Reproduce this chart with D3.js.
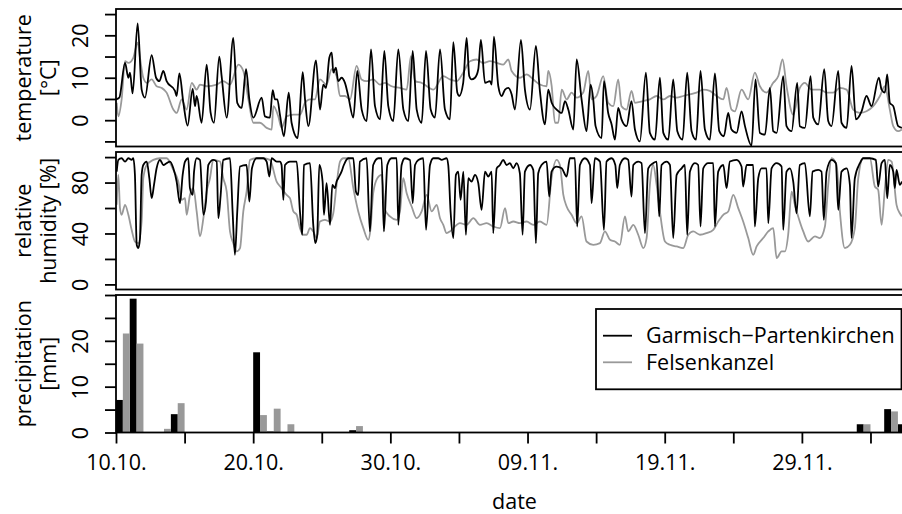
<!DOCTYPE html>
<html lang="en">

<head>
  <meta charset="utf-8">
  <title>Garmisch vs Felsenkanzel</title>
  <script src="https://cdn.jsdelivr.net/npm/d3@7"></script>
  <style>
    body {
      margin: 0;
      background: #fff;
    }

    svg {
      display: block;
      font-family: "Open Sans", sans-serif;
    }
  </style>
</head>

<body>
  <svg id="svg" width="902" height="514"></svg>
  <script type="text/javascript">

    var startDate = Date.UTC(2010, 9, 10); // 10.10.
    var stations = ['Garmisch\u2212Partenkirchen', 'Felsenkanzel'];
    var colors = ['#000000', '#999999'];

    // [days since 10.10. 00:00, °C]
    var tempGarmisch = [[0, 4.9], [0.24, 5.3], [0.66, 13.5], [0.9, 10], [1.02, 11.2], [1.21, 6.3], [1.58, 22.8], [1.87, 7.2], [2.11, 5.3], [2.6, 15.3], [2.92, 10], [3.16, 9.2], [3.45, 11.6], [3.69, 9.2], [4.3, 6.9], [4.42, 5.7], [4.62, 11], [4.91, 4.1], [5.22, -1.3], [5.59, 7.4], [5.76, 3.3], [5.88, 5.7], [6.24, -0.6], [6.61, 13.1], [6.9, 1.7], [7.14, -0.6], [7.53, 15], [7.7, 10.4], [8.07, 0.6], [8.55, 19.4], [8.84, 4.1], [9.16, 2.9], [9.48, 12], [9.72, 4.9], [10.01, 0.6], [10.62, 5.3], [10.86, 0.9], [11.22, 0.6], [11.42, 7.1], [11.59, 4.9], [11.76, 4.9], [11.95, 1.3], [12.24, -3.8], [12.59, 6.5], [12.8, -0.6], [13.24, -4.2], [13.61, 11.3], [13.78, 4.9], [14.02, -1.4], [14.58, 14.1], [14.87, 2.5],
      [15.11, 8.4], [15.31, 7.6], [15.55, 14.7], [15.73, 15.9], [15.84, 11.2], [16.03, 12.4], [16.2, 9.2], [16.44, 10], [16.69, 8.8], [16.93, 5.7], [17.3, 0.6], [17.59, 11.6], [17.91, 2.5], [18.27, -0.2], [18.59, 16.7], [18.88, 3.3], [19.25, 0.2], [19.56, 16.3], [19.85, 3.3], [20.21, -0.2], [20.58, 16.7], [20.95, 2.5], [21.31, -0.2], [21.63, 16.3], [21.92, 2.5], [22.28, -0.6], [22.6, 16.3], [22.94, 2.5], [23.25, 0.6], [23.62, 16.7], [23.98, 2.5], [24.34, 0.2], [24.59, 18.4], [24.88, 6.5], [25.02, 5.7], [25.31, 8.8], [25.56, 19.4], [25.75, 10.4], [25.92, 9.6], [26.17, 10], [26.41, 12], [26.6, 18.9], [26.9, 8.8], [27.26, 9.2], [27.39, 8.4], [27.55, 19.7], [27.87, 8], [28.11, 5.7], [28.36, 7.2], [28.6, 7.6], [28.84, 6.1], [29.08, 2.5], [29.52, 18.9], [29.81, 7.2], [30.18, 2.5], [30.61, 17.5], [30.9, 6.9], [31.27, -1], [31.51, 7.2], [31.76, 4.1], [32.12, 2.5], [32.49, 1.7], [32.73, 4.5], [32.97, 2.5], [33.34, -2.2], [33.58, 14.3], [33.94, 4.9], [34.3, -2.6], [34.6, 8.4], [34.79, 4.9], [34.96, -1.4], [35.4, -4.2], [35.57, 9.2], [35.88, 1.7], [36.13, -1], [36.37, -4.6], [36.61, 2.9],
      [36.85, 0.2], [37.22, -1.4], [37.58, 4.5], [37.83, -2.2], [38.19, -5], [38.63, 11.2], [38.92, -3], [39.29, -4.6], [39.65, 10], [39.9, -3], [40.26, -4.6], [40.62, 9.6], [40.92, -2.6], [41.3, -4.6], [41.64, 11.2], [41.96, -2.6], [42.28, -4.6], [42.61, 11.6], [42.93, -2.2], [43.29, -4.6], [43.66, 11], [43.98, -2.6], [44.31, -3.8], [44.63, 1.7], [44.87, -2.2], [45.24, -3], [45.6, 2.1], [45.85, -1.4], [46.33, -6], [46.62, 9.6], [46.94, -3], [47.31, -3.4], [47.67, 7.6], [47.91, -2.6], [48.16, -3], [48.64, 10.4], [48.88, -1.4], [49.25, -2.6], [49.66, 8.8], [49.85, -1.4], [50.22, -1.8], [50.63, 10.4], [50.83, 0.6], [51.19, -1], [51.63, 12], [51.92, -0.2], [52.16, -1.4], [52.65, 11.6], [52.89, -0.6], [53.26, -1.8], [53.62, 12.8], [53.94, 0.2], [54.35, 2.1], [54.71, 5.7], [55.08, 3.3], [55.61, 10], [55.81, 7.2], [56.05, 6.5], [56.22, 10.8], [56.41, 4.1], [56.66, 3.3], [57.02, -1.4], [57.29, -1.8]];

    var tempFelsenkanzel = [[0.05, 4.1], [0.17, 0.9], [0.41, 4.9], [0.66, 13.9], [0.9, 13.5], [1.26, 14.7], [1.58, 18.3], [1.75, 14.7], [1.99, 10], [2.24, 8.8], [2.6, 9.6], [2.96, 8], [3.33, 7.6], [3.69, 6.5], [4.18, 2.5], [4.42, 1.7], [4.79, 4.9], [5.15, 2.5], [5.52, 8.8], [5.88, 7.2], [6.12, 8.4], [6.61, 8], [7.34, 8.4], [7.82, 9.2], [8.31, 8.4], [8.92, 13.1], [9.28, 11.6], [9.65, 4.9], [10.01, -0.6], [10.49, -0.6], [10.98, -1.8], [11.35, -2.2], [11.47, 3.3], [11.83, 0.9], [12.07, -1.8], [12.44, 0.9], [12.93, 1.3], [13.41, 1.3], [13.78, 4.1], [14.14, 4.9], [14.5, 4.9], [14.87, 9.6],
      [15.35, 8.4], [15.72, 12], [16.08, 10.4], [16.33, 5.7], [16.69, 5.7], [17.06, 4.9], [17.54, 12.8], [17.9, 9.6], [18.27, 9.2], [18.75, 9.6], [19.24, 8.4], [19.61, 8.8], [20.09, 8], [20.7, 7.6], [21.19, 7.2], [21.5, 15.1], [21.8, 9.2], [22.28, 8.8], [23.13, 7.2], [23.86, 10.4], [24.34, 9.6], [24.83, 9.2], [25.31, 11.2], [25.8, 13.9], [26.29, 14.3], [26.77, 13.5], [27.26, 13.9], [27.75, 13.5], [28.23, 13.1], [28.6, 14.3], [28.84, 11.6], [29.45, 10], [29.93, 10.8], [30.42, 9.6], [30.9, 8.4], [31.39, 8], [31.51, 11.6], [31.76, 8], [32, -0.6], [32.24, -0.6], [32.49, 7.2], [32.85, 4.9], [33.21, 6.5], [33.58, 5.3], [34.06, 6.5], [34.43, 11.6], [34.67, 4.9], [35.03, 5.7], [35.52, 10.4], [35.88, 4.1], [36.25, 3.3], [36.61, 9.6],
      [36.85, 3.3], [37.22, 2.5], [37.58, 6.9], [37.83, 4.1], [38.44, 4.5], [38.92, 4.9], [39.41, 5.7], [39.9, 4.9], [40.38, 5.7], [40.87, 5.3], [41.35, 5.7], [41.84, 6.1], [42.32, 6.5], [42.81, 7.2], [43.29, 6.9], [43.78, 5.7], [44.27, 4.9], [44.51, 7.6], [44.87, 2.5], [45.11, 2.1], [45.6, 7.2], [46.09, 4.9], [46.57, 11.2], [46.94, 8], [47.42, 6.5], [47.91, 8.8], [48.28, 10.4], [48.59, 14.3], [48.88, 8], [49.37, 1.3], [49.85, 7.6], [50.22, 8.8], [50.7, 7.2], [51.31, 7.2], [51.8, 6.5], [52.28, 6.5], [52.77, 7.6], [53.26, 7.2], [53.74, 2.5], [54.23, 1.7], [54.71, 2.1], [55.2, 3.3], [55.69, 5.7], [56.05, 8], [56.41, 2.5], [56.66, -1.4], [57.02, -2.6], [57.29, -2.2]];

    // [days since 10.10. 00:00, %]
    var humGarmisch = [[0.05, 88.6], [0.17, 97.8], [0.41, 99.1], [0.66, 96.5], [0.9, 99.1], [1.14, 97.8], [1.26, 99.1], [1.38, 86], [1.51, 31.1], [1.63, 28.5], [1.75, 36.4], [1.87, 86], [1.99, 93.8], [2.24, 96.5], [2.43, 83.4], [2.6, 67.7], [2.77, 78.2], [2.96, 91.2], [3.21, 97.8], [3.45, 93.8], [3.69, 95.2], [3.94, 96.5], [4.18, 91.2], [4.42, 80.8], [4.66, 63.8], [4.86, 86], [5.03, 96.5], [5.27, 99.1], [5.39, 75.6], [5.59, 70.3], [5.69, 88.6], [5.88, 99.1], [6.12, 97.8], [6.37, 54.7], [6.56, 65.1], [6.73, 93.8], [7.09, 97.8], [7.34, 96.5], [7.46, 52], [7.63, 70.3], [7.82, 97.8], [8.31, 99.1], [8.5, 57.3], [8.67, 23.3], [8.84, 57.3], [9.04, 92.6], [9.52, 93.8], [9.72, 65.1], [9.91, 91.2], [10.25, 99.1], [10.74, 99.1], [10.98, 96.5], [11.18, 84.7], [11.35, 99.1], [11.71, 96.5], [11.95, 96.5], [12.07, 93.8], [12.2, 66.4], [12.32, 93.8], [12.68, 96.5], [13.17, 96.5], [13.41, 57.3], [13.58, 38.9], [13.7, 93.8], [14.14, 95.2], [14.38, 46.8], [14.53, 32.4], [14.67, 39], [14.82, 93.8],
      [15.06, 80.8], [15.16, 54.7], [15.35, 79.5], [15.6, 46.8], [15.77, 78.2], [15.96, 75.6], [16.08, 80.8], [16.2, 83.4], [16.44, 88.6], [16.61, 93.8], [16.93, 99.1], [17.3, 99.1], [17.49, 72.9], [17.66, 70.3], [17.78, 96.5], [18.27, 99.1], [18.51, 41.6], [18.75, 93.8], [19.12, 99.1], [19.36, 99.1], [19.53, 41.6], [19.78, 93.8], [20.09, 99.1], [20.46, 99.1], [20.58, 46.8], [20.82, 93.8], [21.06, 99.1], [21.43, 97.8], [21.63, 63.8], [21.8, 93.8], [22.04, 97.8], [22.4, 99.1], [22.6, 42.9], [22.89, 93.8], [23.13, 99.1], [23.49, 99.1], [23.74, 97.8], [24.1, 99.1], [24.22, 93.8], [24.39, 57.3], [24.59, 36.4], [24.78, 86], [24.95, 88.6], [25.12, 66.4], [25.32, 88.6], [25.51, 39], [25.68, 83.4], [25.92, 80.8], [26.17, 86], [26.41, 79.5], [26.65, 58.6], [26.9, 88.6], [27.14, 84.7], [27.38, 88.6], [27.5, 40.3], [27.75, 91.2], [27.99, 93.8], [28.23, 97.8], [28.47, 93.8], [28.72, 95.2], [28.96, 91.2], [29.2, 95.2], [29.44, 87.3], [29.64, 39], [29.81, 88.6], [30.18, 93.8], [30.42, 89.9], [30.61, 32.4], [30.78, 87.3], [31.02, 93.8], [31.39, 96.5], [31.58, 69], [31.75, 88.6], [32.12, 92.5], [32.49, 91.2], [32.85, 84.7], [33.09, 99.1], [33.45, 99.1], [33.62, 45.5], [33.82, 93.8], [34.18, 99.1], [34.55, 93.8], [34.67, 63.8], [34.91, 99.1], [35.28, 96.5], [35.57, 42.9], [35.76, 96.5], [36.13, 99.1], [36.4, 93.8], [36.54, 75.6], [36.73, 93.8],
      [37.1, 99.1], [37.34, 97.8], [37.58, 69], [37.71, 93.8], [38.07, 96.5], [38.31, 95.2], [38.56, 40.3], [38.8, 91.2], [39.16, 95.2], [39.41, 96.5], [39.6, 53.4], [39.77, 93.8], [40.14, 96.5], [40.38, 93.8], [40.62, 36.4], [40.87, 86], [41.23, 91.2], [41.47, 93.8], [41.64, 39], [41.84, 88.6], [42.2, 95.2], [42.44, 93.8], [42.61, 45.5], [42.81, 91.2], [43.17, 95.2], [43.54, 95.2], [43.66, 45.5], [43.9, 88.6], [44.27, 93.8], [44.51, 75.6], [44.75, 96.5], [45.24, 97.8], [45.6, 92.6], [45.72, 76.9], [45.97, 93.8], [46.45, 93.8], [46.57, 45.5], [46.82, 83.4], [47.06, 91.2], [47.42, 91.2], [47.55, 48.1], [47.79, 91.2], [48.16, 95.2], [48.52, 92.6], [48.64, 42.9], [48.88, 88.6], [49.13, 91.2], [49.37, 80.8], [49.61, 55.9], [49.85, 93.8], [50.22, 95.2], [50.58, 53.4], [50.78, 88.6], [51.19, 89.9], [51.43, 88.6], [51.6, 50.7], [51.8, 88.6], [52.16, 97.8], [52.48, 95.2], [52.65, 58.6], [52.89, 88.6], [53.26, 91.2], [53.5, 78.2], [53.62, 36.4], [53.86, 83.4], [54.23, 95.2], [54.47, 99.1], [54.96, 99.1], [55.39, 97.8], [55.56, 76.9], [55.81, 95.2], [56.05, 97.8], [56.22, 67.7], [56.41, 93.8], [56.66, 88.6], [56.78, 75.6], [56.9, 89.9], [57.14, 78.2], [57.29, 80.8]];

    var humFelsenkanzel = [[0.05, 62.5], [0.17, 86], [0.29, 59.9], [0.41, 54.7], [0.66, 62.5], [0.9, 54.7], [1.14, 42.9], [1.38, 33.7], [1.63, 32.4], [1.87, 49.4], [1.99, 83.4], [2.24, 93.8], [2.72, 97.8], [3.21, 99.1], [3.69, 99.1], [4.18, 89.9], [4.54, 80.8], [4.79, 66.4], [5.03, 67.7], [5.15, 54.7], [5.39, 70.3], [5.64, 75.6], [5.88, 57.3], [6.12, 37.7], [6.37, 52], [6.61, 72.9], [6.85, 83.4], [7.09, 97.8], [7.58, 96.5], [7.82, 83.4], [8.07, 72.9], [8.31, 41.6], [8.55, 32.4], [8.8, 25.9], [9.04, 28.5], [9.28, 57.3], [9.52, 72.9], [9.77, 97.8], [10.25, 99.1], [10.74, 99.1], [11.22, 97.8], [11.71, 80.8], [12.07, 75.6], [12.44, 70.3], [12.68, 67.7], [12.93, 57.3], [13.17, 54.7], [13.41, 44.2], [13.65, 39], [13.9, 39], [14.14, 44.2], [14.38, 41.6], [14.63, 36.4], [14.87, 49.4],
      [15.23, 50.7], [15.6, 49.4], [15.84, 55.9], [16.08, 78.2], [16.33, 96.5], [16.57, 99.1], [16.93, 99.1], [17.3, 75.6], [17.66, 57.3], [18.03, 44.2], [18.39, 35], [18.56, 44.2], [18.75, 71.6], [19.05, 83.4], [19.36, 86], [19.61, 58.6], [19.97, 53.4], [20.46, 50.7], [20.7, 57.3], [20.94, 83.4], [21.19, 71.6], [21.55, 61.2], [21.92, 52], [22.28, 57.3], [22.65, 70.3], [23.01, 57.3], [23.38, 62.5], [23.62, 52], [23.86, 46.8], [24.1, 40.3], [24.34, 41.6], [24.59, 44.2], [25.07, 48.1], [25.56, 46.8], [26.05, 52], [26.53, 46.8], [27.02, 48.1], [27.5, 45.5], [27.99, 44.2], [28.36, 59.9], [28.6, 48.1], [28.96, 49.4], [29.45, 48.1], [29.93, 49.4], [30.42, 46.8], [30.9, 49.4], [31.39, 46.8], [31.75, 83.4], [32.12, 97.8], [32.36, 93.8], [32.61, 70.3], [32.85, 61.2], [33.21, 54.7], [33.58, 48.1], [33.94, 53.4], [34.3, 33.7], [34.79, 31.1], [35.28, 32.4], [35.64, 41.6], [36.01, 35], [36.37, 33.7], [36.73, 31.1],
      [37.1, 53.4], [37.34, 41.6], [37.71, 46.8], [38.07, 39], [38.44, 28.5], [38.68, 36.4], [38.92, 78.2], [39.16, 93.8], [39.41, 78.2], [39.65, 57.3], [40.02, 33.7], [40.38, 31.1], [40.87, 29.8], [41.35, 28.5], [41.72, 39], [42.08, 41.6], [42.57, 39], [43.05, 40.3], [43.54, 42.9], [43.9, 49.4], [44.27, 54.7], [44.63, 57.3], [45, 70.3], [45.36, 59.9], [45.72, 49.4], [46.09, 36.4], [46.45, 23.3], [46.7, 29.8], [47.18, 36.4], [47.55, 41.6], [47.91, 44.2], [48.16, 20.7], [48.52, 25.9], [48.76, 25.9], [49, 39], [49.25, 72.9], [49.49, 62.5], [49.73, 53.4], [50.1, 41.6], [50.46, 33.7], [50.95, 37.7], [51.31, 36.4], [51.68, 45.5], [51.92, 78.2], [52.16, 99.1], [52.53, 93.8], [52.77, 57.3], [53.13, 28.5], [53.5, 31.1], [53.86, 44.2], [54.11, 83.4], [54.47, 99.1], [54.96, 99.1], [55.32, 76.9], [55.56, 74.3], [55.81, 46.8], [56.05, 75.6], [56.29, 97.8], [56.54, 96.5], [56.9, 62.5], [57.14, 55.9], [57.29, 53.4]];

    // daily precipitation [mm], one value per day from 10.10.
    var precipGarmisch = [7.1, 29.2, 0, 0, 4.0, 0, 0, 0, 0, 0,
      17.5, 0.2, 0, 0, 0, 0, 0, 0.5, 0, 0,
      0, 0, 0, 0, 0, 0, 0, 0, 0, 0,
      0, 0, 0, 0, 0, 0, 0, 0, 0, 0,
      0, 0, 0, 0, 0, 0, 0, 0, 0, 0,
      0, 0, 0, 0, 1.8, 0, 5.1, 1.8];
    var precipFelsenkanzel = [21.6, 19.4, 0, 0.8, 6.4, 0, 0, 0, 0, 0,
      3.8, 5.2, 1.8, 0, 0, 0, 0, 1.4, 0, 0,
      0, 0, 0, 0, 0, 0, 0, 0, 0, 0,
      0, 0, 0, 0, 0, 0, 0, 0, 0, 0,
      0, 0, 0, 0, 0, 0, 0, 0, 0, 0,
      0, 0, 0, 0, 1.8, 0, 4.6, 0];

    var yTitles = [['temperature', '[°C]'], ['relative', 'humidity [%]'], ['precipitation', '[mm]']];
    var tempTicks = [-5, 0, 5, 10, 15, 20, 25], tempLabels = [0, 10, 20];
    var humTicks = [0, 20, 40, 60, 80, 100], humLabels = [0, 40, 80];
    var precTicks = [0, 5, 10, 15, 20, 25, 30], precLabels = [0, 10, 20];
    var dateTickDays = [0, 5, 10, 15, 20, 25, 30, 35, 40, 45, 50, 55];

    var fontSize = 21.5;
    var plotLeft = 116, plotRight = 913, panelH = 137.5;
    var tops = [9, 152, 295];

    var svg = d3.select('#svg');

    function toDate(d) {
      return new Date(startDate + d * 864e5);
    }

    var x = d3.scaleUtc()
      .domain([toDate(0), toDate(58.1)])
      .range([plotLeft, plotRight]);

    var yTemp = d3.scaleLinear().domain([-6.2, 26.2]).range([tops[0] + panelH, tops[0]]);
    var yHum = d3.scaleLinear().domain([-4, 104]).range([tops[1] + panelH, tops[1]]);
    var yPrec = d3.scaleLinear().domain([0, 30]).range([tops[2] + panelH, tops[2]]);

    var defs = svg.append('defs');
    tops.forEach(function (t, i) {
      defs.append('clipPath').attr('id', 'clip' + i)
        .append('rect')
        .attr('x', plotLeft).attr('y', t)
        .attr('width', plotRight - plotLeft).attr('height', panelH);
    });

    function drawLines(i, y, series) {
      var line = d3.line()
        .curve(d3.curveMonotoneX)
        .x(function (d) { return x(toDate(d[0])); })
        .y(function (d) { return y(d[1]); });
      var g = svg.append('g').attr('clip-path', 'url(#clip' + i + ')');
      // grey station below, black on top
      for (var k = series.length - 1; k >= 0; k--) {
        g.append('path')
          .datum(series[k])
          .attr('d', line)
          .attr('fill', 'none')
          .attr('stroke', colors[k])
          .attr('stroke-width', 1.8)
          .attr('stroke-linejoin', 'round');
      }
    }

    drawLines(0, yTemp, [tempGarmisch, tempFelsenkanzel]);
    drawLines(1, yHum, [humGarmisch, humFelsenkanzel]);

    // bars: black in the first half of the day, grey in the second
    var gBars = svg.append('g').attr('clip-path', 'url(#clip2)');
    [precipGarmisch, precipFelsenkanzel].forEach(function (vals, k) {
      var days = vals.map(function (v, i) { return { day: i, value: v }; })
        .filter(function (d) { return d.value > 0; });
      gBars.selectAll(null)
        .data(days)
        .enter()
        .append('rect')
        .attr('x', function (d) { return x(toDate(d.day + k * 0.5)); })
        .attr('width', function (d) { return x(toDate(d.day + 0.5)) - x(toDate(d.day)); })
        .attr('y', function (d) { return yPrec(d.value); })
        .attr('height', function (d) { return yPrec(0) - yPrec(d.value); })
        .attr('fill', colors[k]);
    });

    // panel boxes
    tops.forEach(function (t) {
      svg.append('rect')
        .attr('x', plotLeft).attr('y', t)
        .attr('width', plotRight - plotLeft).attr('height', panelH)
        .attr('fill', 'none')
        .attr('stroke', '#000')
        .attr('stroke-width', 1.8);
    });

    function yAxis(y, ticks, labels) {
      var g = svg.append('g')
        .attr('transform', 'translate(' + plotLeft + ',0)')
        .call(d3.axisLeft(y)
          .tickValues(ticks)
          .tickSize(11)
          .tickFormat(function (d) { return labels.indexOf(d) >= 0 ? d : ''; }));
      g.attr('font-size', null).attr('font-family', null);
      g.select('.domain').remove();
      g.selectAll('.tick line').attr('stroke', '#000').attr('stroke-width', 1.8);
      g.selectAll('.tick text')
        .attr('transform', 'rotate(-90)')
        .attr('x', 0)
        .attr('y', -28)
        .attr('dy', 0)
        .attr('text-anchor', 'middle')
        .attr('fill', '#000')
        .style('font-size', fontSize + 'px');
    }

    yAxis(yTemp, tempTicks, tempLabels);
    yAxis(yHum, humTicks, humLabels);
    yAxis(yPrec, precTicks, precLabels);

    var fmt = d3.utcFormat('%d.%m.');
    var xg = svg.append('g')
      .attr('transform', 'translate(0,' + (tops[2] + panelH) + ')')
      .call(d3.axisBottom(x)
        .tickValues(dateTickDays.map(toDate))
        .tickSize(11)
        .tickPadding(11)
        .tickFormat(function (d, i) { return i % 2 ? '' : fmt(d); }));
    xg.attr('font-size', null).attr('font-family', null);
    xg.select('.domain').remove();
    xg.selectAll('.tick line').attr('stroke', '#000').attr('stroke-width', 1.8);
    xg.selectAll('.tick text').attr('fill', '#000').style('font-size', fontSize + 'px');

    // axis titles
    yTitles.forEach(function (lines, i) {
      var cy = tops[i] + panelH / 2;
      lines.forEach(function (txt, j) {
        svg.append('text')
          .attr('transform', 'translate(' + (31 + j * 25) + ',' + cy + ') rotate(-90)')
          .attr('text-anchor', 'middle')
          .style('font-size', fontSize + 'px')
          .text(txt);
      });
    });

    svg.append('text')
      .attr('x', (plotLeft + plotRight) / 2)
      .attr('y', 509)
      .attr('text-anchor', 'middle')
      .style('font-size', fontSize + 'px')
      .text('date');

    // legend
    var legend = svg.append('g');
    legend.append('rect')
      .attr('x', 596).attr('y', 309)
      .attr('width', 305.5).attr('height', 80.3)
      .attr('fill', '#fff')
      .attr('stroke', '#000')
      .attr('stroke-width', 1.8);
    stations.forEach(function (name, i) {
      var ly = 335.7 + i * 26.6;
      legend.append('line')
        .attr('x1', 603).attr('x2', 632)
        .attr('y1', ly).attr('y2', ly)
        .attr('stroke', colors[i])
        .attr('stroke-width', 1.8);
      legend.append('text')
        .attr('x', 646).attr('y', ly + 7.5)
        .style('font-size', fontSize + 'px')
        .text(name);
    });
  </script>
</body>

</html>
